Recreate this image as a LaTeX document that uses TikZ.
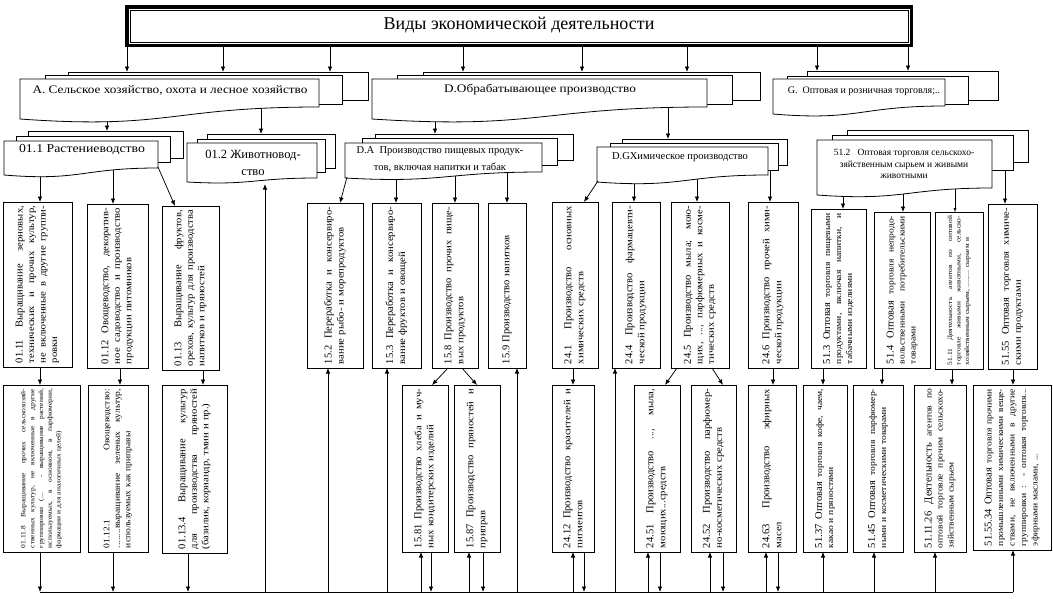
\documentclass[tikz,border=0pt]{standalone}
\usepackage{fontspec}
\setmainfont{Liberation Serif}
\newfontfamily\vf[FakeStretch=1.12]{Liberation Serif}
\newfontfamily\wf[FakeStretch=1.15]{Liberation Serif}
\newfontfamily\nf{Liberation Serif}
\usetikzlibrary{arrows.meta}
\pgfdeclarelayer{bg}
\pgfsetlayers{bg,main}
\newlength\jlw
\newcommand\fsz[2]{\fontsize{#1}{#2}\selectfont}
\newcommand\jl[1]{{\spaceskip=0pt\xspaceskip=0pt\makebox[\jlw][s]{#1}}}
\newcommand\bgs[1]{{\nf\fontsize{10.5}{11}\selectfont #1}}
\tikzset{
 bx/.style={draw, fill=white, line width=0.8pt, inner sep=0pt, outer sep=0pt},
 sh/.style={draw, fill=white, line width=0.8pt},
 arr/.style={-{Latex[length=5.5pt,width=4.5pt]}, line width=0.75pt},
 tarr/.style={-{Latex[length=4pt,width=3pt]}, line width=0.4pt},
 vtxt/.style={rotate=90, inner sep=0pt, align=left},
 lbl/.style={inner sep=0pt, align=center},
}
\newcommand\mkrect[5]{\pgfmathsetmacro\rw{#4-#2}\pgfmathsetmacro\rh{#5-#3}%
  \node[bx, minimum width=\rw pt, minimum height=\rh pt, anchor=north west] (#1) at (#2,#3) {};}
\newcommand\mkdoc[5]{\draw[sh] (#1,#2) -- (#3,#2) -- (#3,#4) .. controls ({(#1+#3)/2},#4) and ({(#1+#3)/2},{#5+0.9*(#5-#4)}) .. (#1,#5) -- cycle;}
\newcommand\mkvbox[7]{\mkrect{#1}{#2}{#3}{#4}{#5}\pgfmathsetmacro\rt{#5-#3-8}\setlength\jlw{\rt pt}%
  \node[vtxt, text width=\rt pt, font=\vf#6] (#1-t) at (#1.center) {#7};}
\begin{document}
\begin{tikzpicture}[x=1pt,y=-1pt]
\useasboundingbox (0,0) rectangle (1053,598);
% title
\node[draw, line width=3.5pt, minimum width=784.5pt, minimum height=38.5pt, inner sep=0pt] (titlebox) at (519,26) {};
\node[draw, line width=0.8pt, minimum width=778pt, minimum height=32pt, inner sep=0pt] (titlein) at (519,26) {};
\node[lbl, font=\fsz{18}{22}] (title) at (519,25) {Виды экономической деятельности};
% level 1 stacks
\mkrect{Ab}{68}{72}{368}{100}
\mkrect{Am}{45}{75}{342}{104}
\mkdoc{20}{79}{319}{107}{119}
\node[lbl, font=\wf\fsz{11.5}{14}] (tA) at (170,90) {А. Сельское хозяйство, охота и лесное хозяйство};
\mkrect{Db}{423}{72}{760}{100}
\mkrect{Dm}{397}{75}{732}{104}
\mkdoc{372}{79}{707}{107}{119}
\node[lbl, font=\wf\fsz{11.5}{14}] (tD) at (540,90) {D.Обрабатывающее производство};
\mkrect{Gb}{807}{71}{998}{100}
\mkrect{Gm}{787}{76}{968}{104}
\mkdoc{773}{79}{945}{106}{114}
\node[lbl, font=\fsz{10}{12}] (tG) at (864,91) {G.\ \ Оптовая и розничная торговля;..};
% level 2 stacks
\mkrect{s011b}{28}{131}{183}{158}
\mkrect{s011m}{16}{136}{170}{162}
\mkdoc{4}{141}{158}{168}{175}
\node[lbl, font=\wf\fsz{12}{14}] (t011) at (82,150) {01.1 Растениеводство};
\mkrect{s012b}{207}{134}{335}{168}
\mkrect{s012m}{197}{139}{325}{172}
\mkdoc{187}{143}{317}{178}{182}
\node[lbl, font=\fsz{12.5}{17}] (t012) at (253,163) {01.2 Животновод-\\ство};
\mkrect{sDAb}{375}{134}{573}{160}
\mkrect{sDAm}{362}{138}{557}{165}
\mkdoc{345}{143}{542}{172}{178}
\node[lbl, font=\fsz{10.5}{17}] (tDA) at (440,159) {D.A\ \ Производство пищевых продук-\\тов, включая напитки и табак};
\mkrect{sDGb}{622}{139}{787}{165}
\mkrect{sDGm}{610}{143}{778}{170}
\mkdoc{597}{147}{768}{175}{182}
\node[lbl, font=\fsz{10.5}{13}] (tDG) at (680,157) {D.GХимическое производство};
\mkrect{s512b}{847}{130}{1028}{162}
\mkrect{s512m}{832}{135}{1013}{170}
\mkdoc{817}{140}{992}{188}{195}
\node[lbl, font=\fsz{9.5}{11.5}] (t512) at (904,164) {51.2\ \ \ Оптовая торговля сельскохо-\\зяйственным сырьем и живыми\\животными};
% level 3 boxes
\mkvbox{b0111}{3}{202}{72}{367}{\fsz{9.5}{11.5}}{\jl{\bgs{01.11 Выращивание} зерновых,}\\\jl{технических и прочих культур,}\\\jl{не включенные в другие группи-}\\ровки}
\mkvbox{b0112}{87}{204}{148}{368}{\fsz{9.5}{11.5}}{\jl{\bgs{01.12 Овощеводство,} декоратив-}\\\jl{ное садоводство и производство}\\продукции питомников}
\mkvbox{b0113}{162}{206}{219}{370}{\fsz{9.5}{11.5}}{\jl{\bgs{01.13 Выращивание} фруктов,}\\\jl{орехов, культур для производства}\\напитков и пряностей}
\mkvbox{b152}{307}{203}{363}{368}{\fsz{9.5}{12}}{\jl{\bgs{15.2 Переработка} и консервиро-}\\вание рыбо- и морепродуктов}
\mkvbox{b153}{372}{203}{421}{368}{\fsz{9.5}{12}}{\jl{\bgs{15.3 Переработка} и консервиро-}\\вание фруктов и овощей}
\mkvbox{b158}{432}{203}{478}{368}{\fsz{9.5}{12}}{\jl{\bgs{15.8 Производство} прочих пище-}\\вых продуктов}
\mkvbox{b159}{488}{203}{526}{368}{\fsz{9.5}{12}}{\bgs{15.9 Производство} напитков}
\mkvbox{b241}{552}{202}{598}{368}{\fsz{9.5}{12}}{\jl{\bgs{24.1 Производство} основных}\\химических средств}
\mkvbox{b244}{612}{202}{660}{368}{\fsz{9.5}{12}}{\jl{\bgs{24.4 Производство} фармацевти-}\\ческой продукции}
\mkvbox{b245}{671}{202}{729}{368}{\fsz{9.5}{11.5}}{\jl{\bgs{24.5 Производство} мыла; мою-}\\\jl{щих, ..., парфюмерных и косме-}\\тических средств}
\mkvbox{b246}{748}{202}{798}{368}{\fsz{9.5}{12}}{\jl{\bgs{24.6 Производство} прочей хими-}\\ческой продукции}
\mkvbox{b513}{811}{209}{866}{368}{\fsz{8.5}{11}}{\jl{\bgs{51.3 Оптовая} торговля пищевыми}\\\jl{продуктами, включая напитки, и}\\табачными изделиями}
\mkvbox{b514}{874}{212}{930}{368}{\fsz{8.5}{11}}{\jl{\bgs{51.4 Оптовая} торговля непродо-}\\\jl{вольственными потребительскими}\\товарами}
\mkvbox{b5111}{935}{212}{983}{369}{\fsz{6.6}{8.5}}{\jl{51.11 Деятельность агентов по оптовой}\\\jl{торговле живыми животными, сельско-}\\хозяйственным сырьем, ......... сырьем и}
\mkvbox{b5155}{988}{204}{1037}{369}{\fsz{9.5}{12}}{\jl{\bgs{51.55 Оптовая} торговля химиче-}\\скими продуктами}
% level 4 boxes
\mkvbox{b01118}{3}{385}{80}{552}{\fsz{6.6}{8.8}}{\jl{01.11.8 Выращивание прочих сельскохозяй-}\\\jl{ственных культур, не включенные в другие}\\\jl{группировки (... - выращивание растений,}\\\jl{используемых, в основном, в парфюмерии,}\\фармации и для аналогичных целей)}
\mkvbox{b01121}{88}{385}{148}{552}{\fsz{8.5}{10.5}}{\jl{01.12.1 Овощеводство:}\\\jl{........выращивание зеленых культур,}\\используемых как приправы}
\mkvbox{b01134}{162}{385}{227}{553}{\fsz{9.5}{11.5}}{\jl{\bgs{01.13.4 Выращивание} культур}\\\jl{для производства пряностей}\\(базилик, кориандр, тмин и пр.)}
\mkvbox{b1581}{402}{385}{448}{552}{\fsz{9.5}{12}}{\jl{\bgs{15.81 Производство} хлеба и муч-}\\ных кондитерских изделий}
\mkvbox{b1587}{454}{385}{500}{552}{\fsz{9.5}{12}}{\jl{\bgs{15.87 Производство} пряностей и}\\приправ}
\mkvbox{b2412}{552}{385}{594}{552}{\fsz{9.5}{12}}{\jl{\bgs{24.12 Производство} красителей и}\\пигментов}
\mkvbox{b2451}{634}{385}{680}{552}{\fsz{9.5}{12}}{\jl{\bgs{24.51 Производство} ..., мыла,}\\моющих...средств}
\mkvbox{b2452}{691}{385}{736}{552}{\fsz{9.5}{12}}{\jl{\bgs{24.52 Производство} парфюмер-}\\но-косметических средств}
\mkvbox{b2463}{748}{385}{796}{552}{\fsz{9.5}{12}}{\jl{\bgs{24.63 Производство} эфирных}\\масел}
\mkvbox{b5137}{803}{385}{847}{552}{\fsz{8.5}{11}}{\jl{\bgs{51.37 Оптовая} торговля кофе, чаем,}\\какао и пряностями}
\mkvbox{b5145}{853}{385}{903}{552}{\fsz{8.5}{11}}{\jl{\bgs{51.45 Оптовая} торговля парфюмер-}\\ными и косметическими товарами}
\mkvbox{b511126}{914}{385}{966}{552}{\fsz{8.5}{11}}{\jl{\bgs{51.11.26 Деятельность} агентов по}\\\jl{оптовой торговле прочим сельскохо-}\\зяйственным сырьем}
\mkvbox{b555534}{973}{385}{1051}{550}{\fsz{8.5}{11.5}}{\jl{\bgs{51.55.34 Оптовая} торговля прочими}\\\jl{промышленными химическими веще-}\\\jl{ствами, не включенными в другие}\\\jl{группировки : - оптовая торговля...}\\эфирными маслами, ...}
% coordinates
\coordinate (busL) at (40,592);
\coordinate (busR) at (1013,592);
\coordinate (d011) at (158,167);
\coordinate (dDA) at (347,177);
\coordinate (dDG) at (598,181);
\coordinate (c012) at (265,184);
% arrows hidden partly under the document shapes
\begin{pgfonlayer}{bg}
\fill[white] (0,0) rectangle (1053,598);
\draw[arr] (tA.center -| 107,0) -- (s011b.north -| 107,0);
\draw[arr] (tA.center -| 261,0) -- (s012b.north -| 261,0);
\draw[arr] (tD.center -| 435,0) -- (sDAb.north -| 435,0);
\draw[arr] (tD.center -| 668,0) -- (sDGb.north -| 668,0);
\draw[arr] (t011.center -| 40,0) -- (b0111.north -| 40,0);
\draw[arr] (t011.center -| 113,0) -- (b0112.north -| 113,0);
\draw[arr] (tDA.center -| 396,0) -- (b153.north -| 396,0);
\draw[arr] (tDA.center -| 455,0) -- (b158.north -| 455,0);
\draw[arr] (tDA.center -| 507,0) -- (b159.north -| 507,0);
\draw[arr] (tDG.center -| 634,0) -- (b244.north -| 634,0);
\draw[arr] (tDG.center -| 697,0) -- (b245.north -| 697,0);
\draw[arr] (tDG.center -| 770,0) -- (b246.north -| 770,0);
\draw[arr] (t512.center -| 843,0) -- (b513.north -| 843,0);
\draw[arr] (t512.center -| 903,0) -- (b514.north -| 903,0);
\draw[tarr] (t512.center -| 955,0) -- (b5111.north -| 955,0);
\draw[arr] (t512.center -| 1005,0) -- (b5155.north -| 1005,0);
\end{pgfonlayer}
% title arrows
\foreach \x in {127,223,330} \draw[arr] (titlebox.south -| \x,0) -- (Ab.north -| \x,0);
\foreach \x in {463,582,687} \draw[arr] (titlebox.south -| \x,0) -- (Db.north -| \x,0);
\foreach \x in {817,908} \draw[arr] (titlebox.south -| \x,0) -- (Gb.north -| \x,0);
% diagonals from level 2
\draw[arr] (d011) -- (b0113.north -| 175,0);
\draw[arr] (dDA) -- (b152.north -| 340,0);
\draw[arr] (dDG) -- (b241.north -| 584,0);
% level 3 to level 4
\draw[arr] (b0111.south -| 40,0) -- (b01118.north -| 40,0);
\draw[arr] (b0112.south -| 120,0) -- (b01121.north -| 120,0);
\draw[arr] (b0113.south -| 203,0) -- (b01134.north -| 203,0);
\draw[arr] (b158.south -| 448,0) -- (b1581.north -| 432,0);
\draw[arr] (b158.south -| 462,0) -- (b1587.north -| 477,0);
\draw[arr] (b241.south -| 573,0) -- (b2412.north -| 573,0);
\draw[arr] (b245.south -| 677,0) -- (b2451.north -| 665,0);
\draw[arr] (b245.south -| 712,0) -- (b2452.north -| 723,0);
\draw[arr] (b246.south -| 773,0) -- (b2463.north -| 773,0);
\draw[arr] (b513.south -| 823,0) -- (b5137.north -| 823,0);
\draw[arr] (b514.south -| 882,0) -- (b5145.north -| 882,0);
\draw[arr] (b5111.south -| 952,0) -- (b511126.north -| 952,0);
\draw[arr] (b5155.south -| 1013,0) -- (b555534.north -| 1013,0);
% bus
\draw[line width=0.8pt] (busL) -- (busR);
\draw[arr] (b01118.south -| 40,0) -- (busL);
\foreach \n/\x in {b01121/113,b01134/188,b1581/431,b1587/483,b2412/584,b2451/660,b2452/723,b2463/778}
  \draw[arr] (\n.south -| \x,0) -- (busL -| \x,0);
\draw[arr] (busL -| 265,0) -- (c012);
\foreach \n/\x in {b152/328,b153/387,b1581/421,b1587/469,b159/517,b2412/573,b244/615,b2451/648,b2452/710,b2463/766,b5137/823,b5145/874,b511126/935}
  \draw[arr] (busL -| \x,0) -- (\n.south -| \x,0);
\draw[arr] (busR) -- (b555534.south -| 1013,0);
\end{tikzpicture}
\end{document}
